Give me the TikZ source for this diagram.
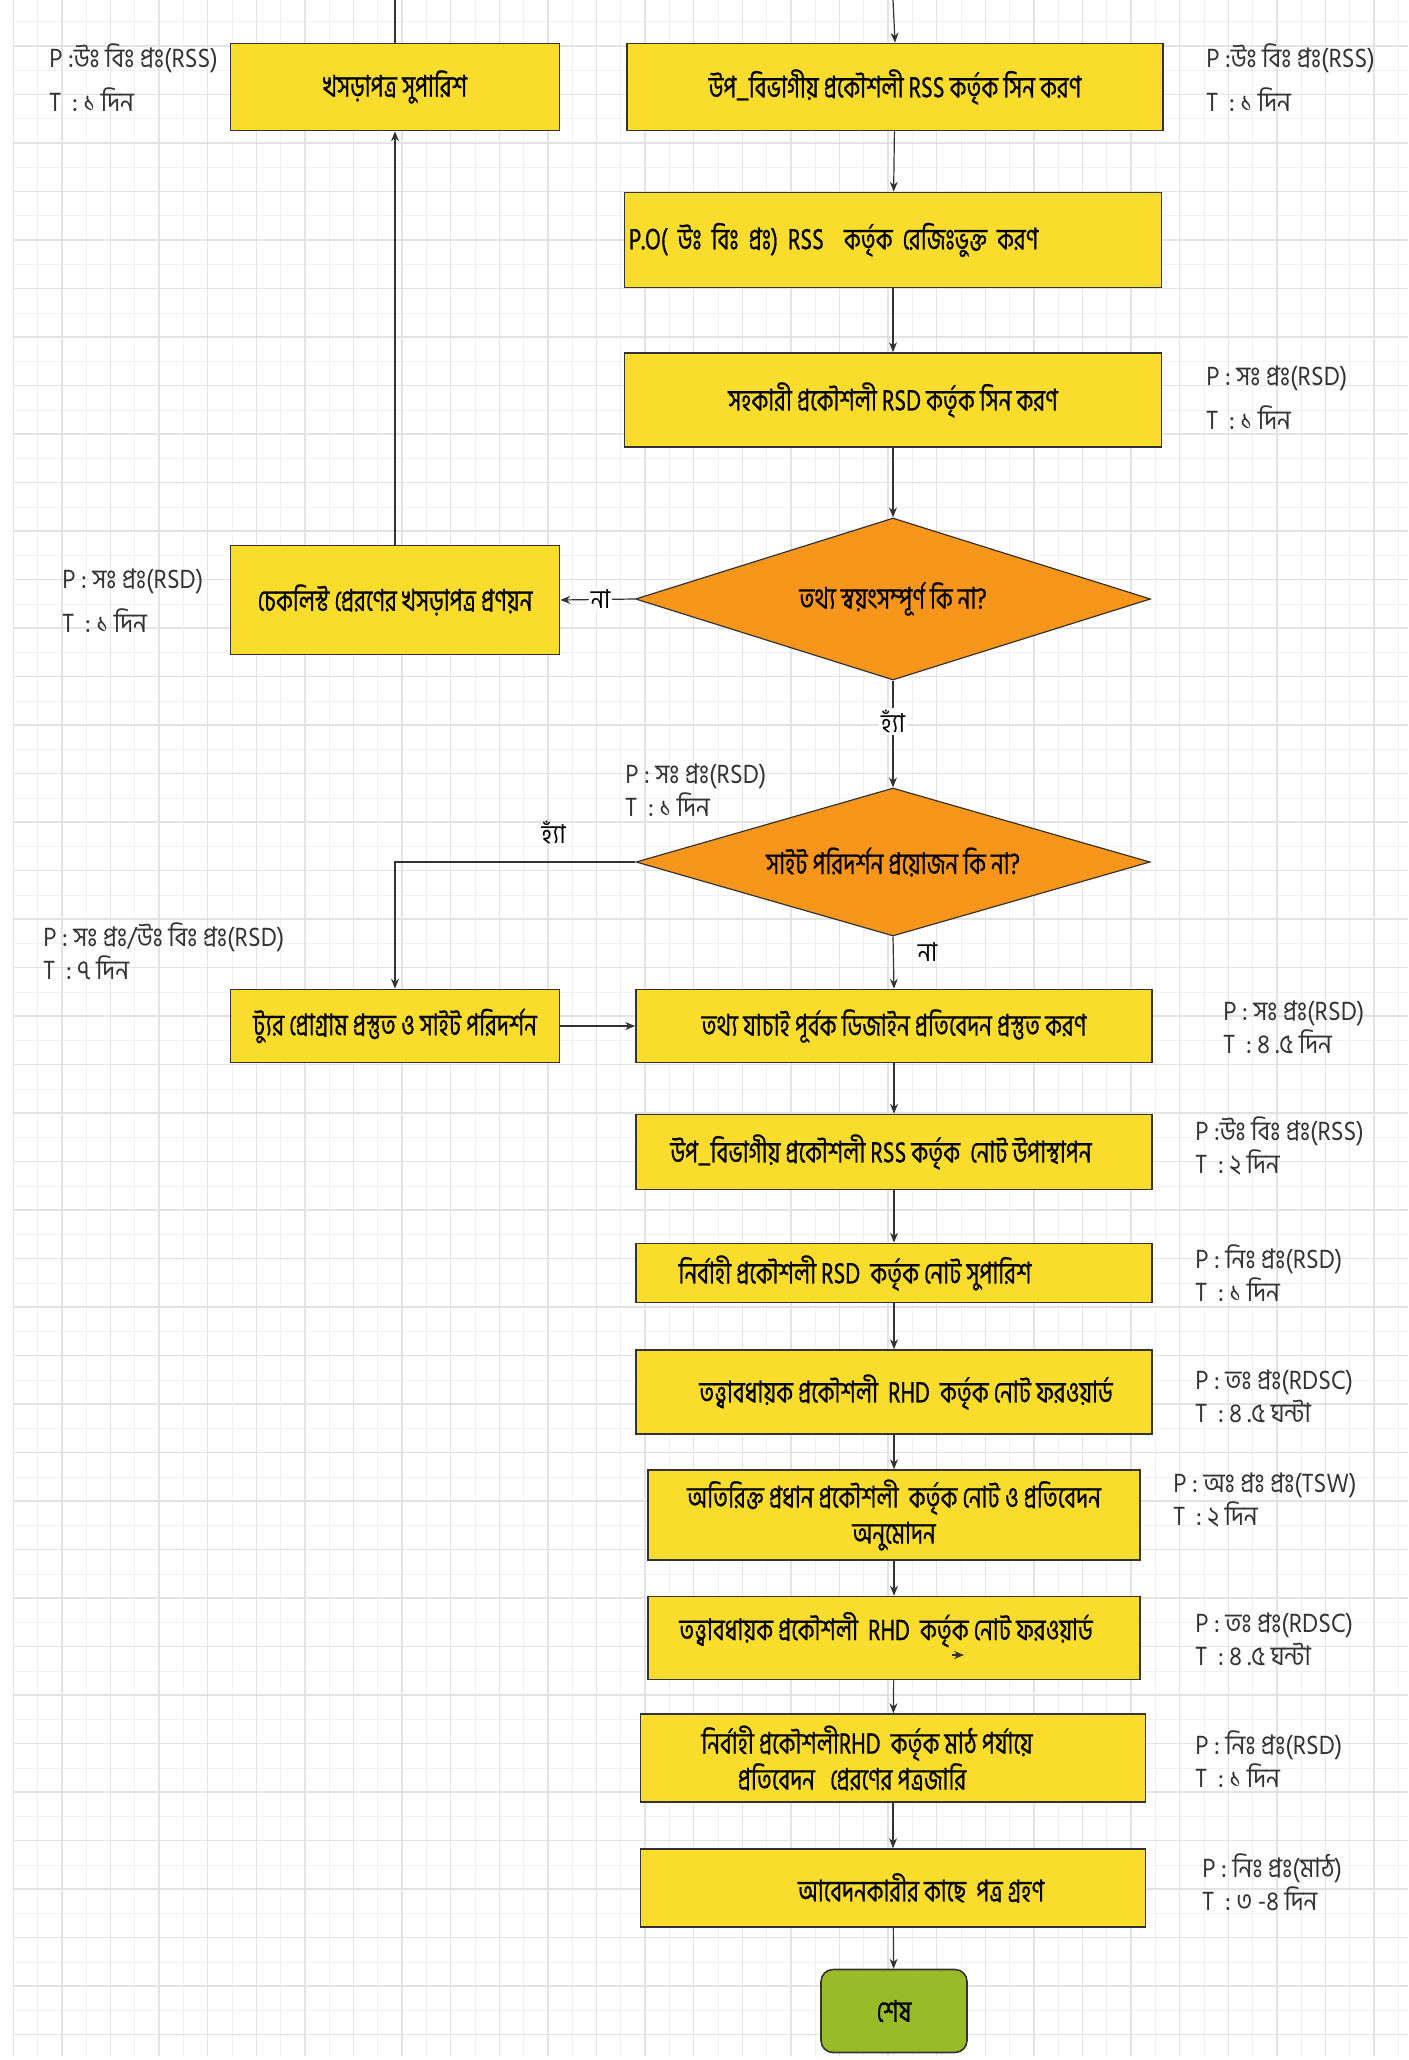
\documentclass[tikz,border=0pt]{standalone}
\usepackage{fontspec}
\usepackage{tikz}
\usetikzlibrary{arrows.meta,shapes,positioning,calc}
\usepackage{xcolor}
\newfontfamily\bnfont[Script=Bengali,FakeStretch=0.75,FakeBold=0.6]{Hind Siliguri}
\newfontfamily\bnnote[Script=Bengali,FakeStretch=0.9]{Hind Siliguri}
\definecolor{boxyellow}{HTML}{F9DC2C}
\definecolor{decorange}{HTML}{F8961C}
\definecolor{endgreen}{HTML}{9ABB28}
\definecolor{edgegray}{HTML}{333333}
\definecolor{notegray}{HTML}{333333}
\tikzset{
  box/.style={draw=edgegray, line width=0.8pt, fill=boxyellow, align=center, inner sep=2pt,
    font=\bnfont\fontsize{15}{18}\selectfont},
  decision/.style={draw=edgegray, line width=0.6pt, fill=decorange, diamond, aspect=3, inner sep=0pt,
    font=\bnfont\fontsize{15}{18}\selectfont},
  finish/.style={box, fill=endgreen, rounded corners=6pt},
  note/.style={anchor=west, align=left, inner sep=0pt, text=notegray,
    font=\bnnote\fontsize{13.5}{16.5}\selectfont},
  widenote/.style={note, font=\bnnote\fontsize{13.5}{22}\selectfont},
  lbl/.style={font=\bnnote\fontsize{13}{14}\selectfont, inner sep=1pt},
  flow/.style={draw=edgegray, line width=0.6pt, -{Stealth[length=5pt,width=4pt]}},
  gridminor/.style={draw=gray!11, line width=0.5pt},
  gridmajor/.style={draw=gray!22, line width=0.7pt}
}
\begin{document}
\begin{tikzpicture}[x=0.5pt, y=-0.5pt]
    \useasboundingbox (0,0) rectangle (1408,2060);
    \fill[white] (0,0) rectangle (1408,2060);

    % grid
    \foreach \gx in {37.6,86.2,...,1408} \draw[gridminor] (\gx,0) -- (\gx,2056);
    \foreach \gy in {22,70.5,...,2056} \draw[gridminor] (13.3,\gy) -- (1408,\gy);
    \foreach \gx in {13.3,61.9,...,1408} \draw[gridmajor] (\gx,0) -- (\gx,2056);
    \foreach \gy in {-2.5,46,...,2056} \draw[gridmajor] (13.3,\gy) -- (1408,\gy);

    % top part
    \coordinate (topA) at (395,0);
    \coordinate (topB) at (893,0);
    \node[box, minimum width=164.5pt, minimum height=43.5pt] (A) at (395,87) {খসড়াপত্র সুপারিশ};
    \node[box, minimum width=268pt, minimum height=43.5pt] (B) at (895,87) {উপ\_বিভাগীয় প্রকৌশলী RSS কর্তৃক সিন করণ};
    \node[box, minimum width=268.5pt, minimum height=47.5pt, text width=264pt, align=left, inner sep=1pt] (C) at (893,240) {P.O( উঃ বিঃ প্রঃ) RSS\ \ কর্তৃক রেজিঃভুক্ত করণ};
    \node[box, minimum width=268.5pt, minimum height=47pt] (D) at (893,400) {সহকারী প্রকৌশলী RSD কর্তৃক সিন করণ};

    \node[widenote] (pA) at (49,78) {P :উঃ বিঃ\ প্রঃ(RSS)\\T\ \ : ১ দিন};
    \node[widenote] (pB) at (1206,78) {P :উঃ বিঃ\ প্রঃ(RSS)\\T\ \ : ১ দিন};
    \node[widenote] (pD) at (1206,398) {P\ : সঃ প্রঃ(RSD)\\T\ \ : ১ দিন};

    % first check
    \node[decision, minimum width=257.5pt, minimum height=81pt] (Q1) at (893,599) {তথ্য স্বয়ংসম্পূর্ণ কি না?};
    \node[box, minimum width=164.5pt, minimum height=54.5pt] (E) at (395,600) {চেকলিস্ট প্রেরণের খসড়াপত্র প্রণয়ন};
    \node[widenote] (pE) at (62,601) {P\ : সঃ প্রঃ(RSD)\\T\ \ : ১ দিন};

    % second check
    \node[decision, minimum width=257pt, minimum height=74pt] (Q2) at (893,862) {সাইট পরিদর্শন প্রয়োজন কি না?};
    \node[note] (pQ2) at (625,790) {P\ : সঃ প্রঃ(RSD)\\T\ \ : ১ দিন};

    \node[box, minimum width=164.5pt, minimum height=36.5pt] (F) at (395,1026) {ট্যুর প্রোগ্রাম প্রস্তুত ও সাইট পরিদর্শন};
    \node[note] (pF) at (43,951) {P : সঃ প্রঃ/উঃ বিঃ\ প্রঃ(RSD)\\T\ \ : ৭ দিন};

    % main column
    \node[box, minimum width=258pt, minimum height=36.5pt] (G) at (894,1026) {তথ্য যাচাই পূর্বক ডিজাইন প্রতিবেদন প্রস্তুত করণ};
    \node[box, minimum width=258pt, minimum height=37.5pt] (H) at (894,1152) {উপ\_বিভাগীয় প্রকৌশলী RSS কর্তৃক\ \ নোট উপাস্থাপন\kern13pt};
    \node[box, minimum width=258pt, minimum height=29.5pt] (I) at (894,1273) {নির্বাহী প্রকৌশলী RSD\ \ কর্তৃক নোট সুপারিশ\kern39pt};
    \node[box, minimum width=258pt, minimum height=42pt] (J) at (894,1392) {\kern12pt তত্ত্বাবধায়ক প্রকৌশলী\ \ RHD\ \ কর্তৃক নোট ফরওয়ার্ড};
    \node[box, minimum width=246pt, minimum height=45pt] (K) at (894,1515) {অতিরিক্ত প্রধান প্রকৌশলী\ \ কর্তৃক নোট ও প্রতিবেদন\\অনুমোদন};
    \node[box, minimum width=246pt, minimum height=41.5pt, text depth=12pt] (L) at (894,1638) {তত্ত্বাবধায়ক প্রকৌশলী\ \ RHD\ \ কর্তৃক নোট ফরওয়ার্ড\kern8pt};
    \node[box, minimum width=252.5pt, minimum height=44pt] (M) at (893,1758) {নির্বাহী প্রকৌশলীRHD\ \ কর্তৃক মাঠ পর্যায়ে\kern26pt\\প্রতিবেদন\ \ \ প্রেরণের পত্রজারি\kern41pt};
    \node[box, minimum width=252.5pt, minimum height=39pt] (N) at (893,1888) {\kern28pt আবেদনকারীর কাছে\ \ পত্র গ্রহণ};
    \node[finish, minimum width=73pt, minimum height=41.5pt] (End) at (894,2011) {শেষ};

    \node[note] (pG) at (1223,1027) {P\ : সঃ প্রঃ(RSD)\\T\ \ : ৪ .৫ দিন};
    \node[note] (pH) at (1195,1146) {P :উঃ বিঃ\ প্রঃ(RSS)\\T\ \ : ২ দিন};
    \node[note] (pI) at (1195,1273) {P\ : নিঃ প্রঃ(RSD)\\T\ \ : ১ দিন};
    \node[note] (pJ) at (1195,1396) {P\ : তঃ প্রঃ(RDSC)\\T\ \ : ৪ .৫ ঘন্টা};
    \node[note] (pK) at (1173,1500) {P\ : অঃ প্রঃ প্রঃ(TSW)\\T\ \ : ২ দিন};
    \node[note] (pL) at (1195,1639) {P\ : তঃ প্রঃ(RDSC)\\T\ \ : ৪ .৫ ঘন্টা};
    \node[note] (pM) at (1195,1759) {P\ : নিঃ প্রঃ(RSD)\\T\ \ : ১ দিন};
    \node[note] (pN) at (1202,1882) {P\ : নিঃ প্রঃ(মাঠ)\\T\ \ : ৩ -৪ দিন};

    % connectors
    \draw[draw=edgegray, line width=0.6pt] (A.north) -- (topA);
    \draw[flow] (topB) -- (B.north);
    \draw[flow] (B) -- (C);
    \draw[flow] (C) -- (D);
    \draw[flow] (D) -- (Q1);
    \draw[flow] (Q1.west) -- node[lbl, fill=white, pos=0.46] (noQ1) {না} (E.east);
    \draw[flow] (E) -- (A);
    \draw[flow] (Q1.south) -- node[lbl, fill=white, pos=0.38] (yesQ1) {হ্যাঁ} (Q2.north);
    \draw[flow] (Q2.west) -| node[lbl, pos=0.17, above=8pt] (yesQ2) {হ্যাঁ} (F.north);
    \draw[flow] (Q2.south) -- node[lbl, pos=0.3, right=11pt] (noQ2) {না} (G.north);
    \draw[flow] (F) -- (G);
    \draw[flow] (G) -- (H);
    \draw[flow] (H) -- (I);
    \draw[flow] (I) -- (J);
    \draw[flow] (J) -- (K);
    \draw[flow] (K) -- (L);
    \draw[flow] (L) -- (M);
    \draw[flow] (M) -- (N);
    \draw[flow] (N) -- (End);

    % stray mark inside L
    \draw[flow] ($(L.center)+(58,17)$) -- ($(L.center)+(70,17)$);
\end{tikzpicture}
\end{document}
